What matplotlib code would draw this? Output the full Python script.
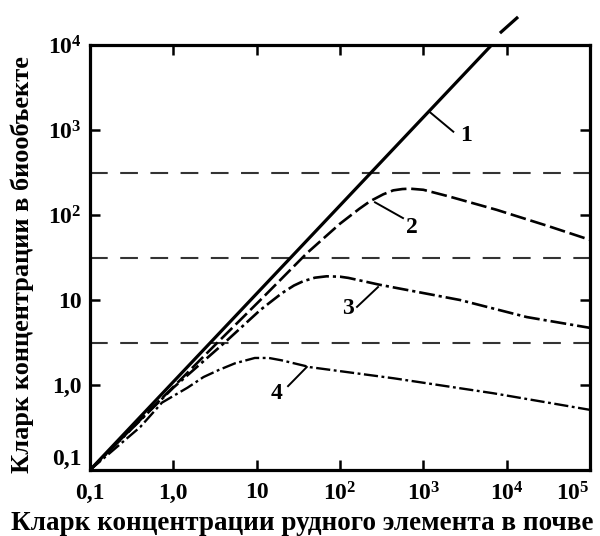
"""Clarke concentration in biota vs soil (log-log)"""
import matplotlib
matplotlib.use("Agg")
import matplotlib.pyplot as plt

plt.rcParams["font.family"] = ["Liberation Serif", "DejaVu Serif"]
plt.rcParams["font.weight"] = "bold"
plt.rcParams["mathtext.fontset"] = "custom"
plt.rcParams["mathtext.rm"] = "Liberation Serif:bold"
plt.rcParams["mathtext.it"] = "Liberation Serif:bold"
plt.rcParams["mathtext.bf"] = "Liberation Serif:bold"

# line 1 (solid) and its dashed continuation above the frame
x1 = [0.1, 6600]
y1 = [0.1, 1.0e4]
x1_ext = [8300, 13700]
y1_ext = [1.38e4, 2.14e4]

# curve 2 (dashed)
x2 = [0.1, 1, 3.16, 12, 40, 100, 170, 229, 330, 436, 560, 692, 1000, 2000, 7590, 31600, 1e5]
y2 = [0.1, 0.95, 2.95, 10.8, 35.5, 79, 118, 145, 175, 195, 202, 204, 198, 166, 115, 74, 51]

# curve 3 (dash-dot)
x3 = [0.1, 1, 4.2, 11, 20, 28, 36, 50, 69, 100, 126, 300, 2750, 17400, 1e5]
y3 = [0.1, 0.93, 3.2, 7.6, 12, 14.8, 16.6, 18.3, 19, 18.8, 18.2, 15.1, 10, 6.3, 4.7]

# curve 4 (dash-dot)
x4 = [0.1, 0.4, 0.73, 1.48, 2.3, 3.5, 5.5, 9.5, 14, 20, 44, 440, 6900, 1e5]
y4 = [0.1, 0.32, 0.62, 0.93, 1.24, 1.5, 1.8, 2.08, 2.08, 1.95, 1.62, 1.2, 0.8, 0.51]

# threshold levels (horizontal dashed)
levels = [316, 31.6, 3.16]

# curve labels: text position and leader line (start, end)
lab_text = ["1", "2", "3", "4"]
lab_x = [3300, 724, 125, 17.5]
lab_y = [860, 72, 8.05, 0.805]
lead_x = [[1200, 2290], [263, 570], [160, 286], [23.8, 40]]
lead_y = [[1620, 955], [141, 92], [8.3, 14.2], [0.97, 1.63]]

xticks = [0.1, 1, 10, 1e2, 1e3, 1e4, 1e5]
xticklabels = ["0,1", "1,0", "10", "$10^2$", "$10^3$", "$10^4$", "$10^5$"]
yticks = [0.1, 1, 10, 1e2, 1e3, 1e4]
yticklabels = ["0,1", "1,0", "10", "$10^2$", "$10^3$", "$10^4$"]

fig = plt.figure(figsize=(6, 5.36), dpi=100)
ax = fig.add_axes([90 / 600, 66 / 536, 500 / 600, 425 / 536])
ax.set_xscale("log")
ax.set_yscale("log")
ax.set_xlim(0.1, 1e5)
ax.set_ylim(0.1, 1e4)

for lv in levels:
    ax.axhline(lv, color="#333333", lw=1.5, dashes=(8.5, 6))

ax.plot(x1, y1, color="black", lw=2.3, solid_capstyle="butt")
ax.plot(x1_ext, y1_ext, color="black", lw=2.3, clip_on=False, solid_capstyle="butt")
ax.plot(x2, y2, color="black", lw=1.9, dashes=(6, 1.8))
ax.plot(x3, y3, color="black", lw=1.9, dashes=(6, 1.5, 1.2, 1.5))
ax.plot(x4, y4, color="black", lw=1.7, dashes=(6, 1.5, 1.2, 1.5))

for t, tx, ty, lx, ly in zip(lab_text, lab_x, lab_y, lead_x, lead_y):
    ax.plot(lx, ly, color="black", lw=1.4)
    ax.text(tx, ty, t, fontsize=17, ha="center", va="center", fontweight="bold")

ax.set_xticks(xticks)
ax.set_xticklabels(xticklabels)
ax.set_yticks(yticks)
ax.set_yticklabels(yticklabels)
ax.minorticks_off()
ax.tick_params(which="major", direction="in", length=7, width=1.8,
               top=True, right=True, labelsize=17, pad=6)
ax.tick_params(axis="x", pad=9)
ax.get_yticklabels()[0].set_va("bottom")
ax.get_xticklabels()[-1].set_ha("right")
for sp in ax.spines.values():
    sp.set_linewidth(2.3)

fig.text(302 / 600, 1 - 524 / 536, "Кларк концентрации рудного элемента в почве",
         ha="center", va="center", fontsize=19.5, fontweight="bold")
fig.text(22 / 600, 1 - 265 / 536, "Кларк концентрации в биообъекте",
         ha="center", va="center", rotation=90, fontsize=19, fontweight="bold")

fig.savefig("out.png", dpi=100)
